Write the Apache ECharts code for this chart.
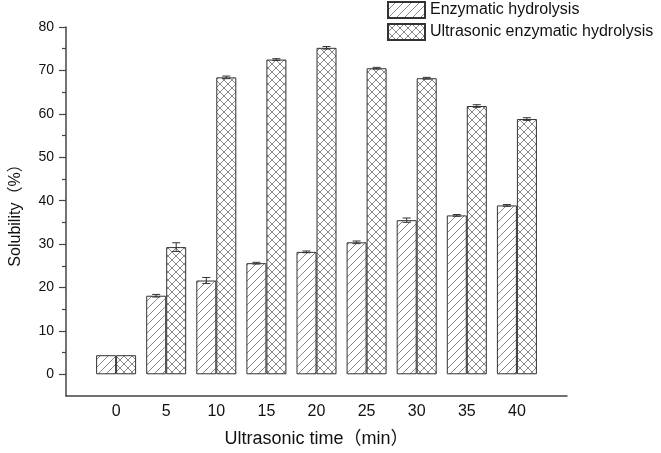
<!DOCTYPE html>
<html>
<head>
<meta charset="utf-8">
<script src="https://cdn.jsdelivr.net/npm/echarts@6/dist/echarts.min.js"></script>
<style>html,body{margin:0;padding:0;background:#fff;}#c{width:661px;height:453px;}</style>
</head>
<body>
<div id="c"></div>
<script>
const times = [0, 5, 10, 15, 20, 25, 30, 35, 40];
const enzymatic = [4.4, 18.1, 21.6, 25.6, 28.2, 30.4, 35.5, 36.6, 38.9];
const enzymaticErr = [0, 0.3, 0.7, 0.2, 0.2, 0.3, 0.5, 0.2, 0.2];
const ultrasonic = [4.4, 29.3, 68.4, 72.5, 75.2, 70.5, 68.2, 61.8, 58.8];
const ultrasonicErr = [0, 1.0, 0.3, 0.2, 0.3, 0.2, 0.2, 0.3, 0.3];
const yLabels = [0, 10, 20, 30, 40, 50, 60, 70, 80];
const yMinor = [5, 15, 25, 35, 45, 55, 65, 75];
const seriesNames = ['Enzymatic hydrolysis', 'Ultrasonic enzymatic hydrolysis'];

function makePattern(cross) {
  const s = 8;
  const c = document.createElement('canvas');
  c.width = s; c.height = s;
  const g = c.getContext('2d');
  g.fillStyle = '#fff'; g.fillRect(0, 0, s, s);
  g.strokeStyle = '#888'; g.lineWidth = 1;
  g.beginPath();
  g.moveTo(-1, s + 1); g.lineTo(s + 1, -1);
  g.moveTo(-1, 1); g.lineTo(1, -1);
  g.moveTo(s - 1, s + 1); g.lineTo(s + 1, s - 1);
  if (cross) {
    g.moveTo(-1, -1); g.lineTo(s + 1, s + 1);
    g.moveTo(s - 1, -1); g.lineTo(s + 1, 1);
    g.moveTo(-1, s - 1); g.lineTo(1, s + 1);
  }
  g.stroke();
  return c;
}

const font = 'Liberation Sans, Arial, Noto Sans CJK SC, sans-serif';
const errData = (vals, errs) => times.map((t, i) => [t, vals[i], errs[i]]);

function errRender(offset) {
  return function (params, api) {
    const x = api.value(0), y = api.value(1), e = api.value(2);
    if (!e) return;
    const top = api.coord([x, y + e]);
    const bot = api.coord([x, y - e]);
    const cx = top[0] + offset;
    const w = 4;
    const st = { stroke: '#333', lineWidth: 1 };
    return {
      type: 'group',
      children: [
        { type: 'line', shape: { x1: cx, y1: top[1], x2: cx, y2: bot[1] }, style: st },
        { type: 'line', shape: { x1: cx - w, y1: top[1], x2: cx + w, y2: top[1] }, style: st },
        { type: 'line', shape: { x1: cx - w, y1: bot[1], x2: cx + w, y2: bot[1] }, style: st }
      ]
    };
  };
}

const chart = echarts.init(document.getElementById('c'), null, { renderer: 'canvas' });
chart.setOption({
  animation: false,
  backgroundColor: '#fff',
  textStyle: { fontFamily: font },
  grid: { left: 65, right: 94, top: 27, bottom: 56, containLabel: false },
  legend: {
    orient: 'vertical',
    left: 387, top: 1, padding: 0,
    itemWidth: 37, itemHeight: 16, itemGap: 4,
    icon: 'rect',
    textStyle: { fontSize: 16, color: '#111', fontFamily: font },
    data: seriesNames
  },
  xAxis: {
    type: 'value', min: -5, max: 45,
    name: 'Ultrasonic time（min）',
    nameLocation: 'middle', nameGap: 34,
    nameTextStyle: { fontSize: 18, color: '#111', fontFamily: font },
    axisLine: { onZero: false, lineStyle: { color: '#444', width: 1.5 } },
    axisTick: { show: false },
    splitLine: { show: false },
    axisLabel: { customValues: times, fontSize: 16, color: '#111', margin: 8, fontFamily: font }
  },
  yAxis: [{
    type: 'value', min: -5, max: 80, position: 'left',
    name: 'Solubility（%）',
    nameLocation: 'middle', nameGap: 42,
    nameTextStyle: { fontSize: 16, color: '#111', fontFamily: font },
    axisLine: { show: true, onZero: false, lineStyle: { color: '#444', width: 1.5 } },
    axisTick: { show: true, customValues: yLabels, length: 7, lineStyle: { color: '#444', width: 1.2 } },
    axisLabel: { customValues: yLabels, fontSize: 14, color: '#111', margin: 12, fontFamily: font },
    splitLine: { show: false }
  }, {
    type: 'value', min: -5, max: 80, position: 'left', offset: 0,
    axisLine: { show: false, onZero: false },
    axisTick: { show: true, customValues: yMinor, length: 4, lineStyle: { color: '#444', width: 1.2 } },
    axisLabel: { show: false },
    splitLine: { show: false }
  }],
  series: [{
    name: seriesNames[0], type: 'bar', barWidth: 20, barGap: '0%',
    data: times.map((t, i) => [t, enzymatic[i]]),
    itemStyle: { color: { image: makePattern(false), repeat: 'repeat' }, borderColor: '#333', borderWidth: 1 }
  }, {
    name: seriesNames[1], type: 'bar', barWidth: 20, barGap: '0%',
    data: times.map((t, i) => [t, ultrasonic[i]]),
    itemStyle: { color: { image: makePattern(true), repeat: 'repeat' }, borderColor: '#333', borderWidth: 1 }
  }, {
    type: 'custom', renderItem: errRender(-10), z: 5,
    data: errData(enzymatic, enzymaticErr), encode: { x: 0, y: 1 }, silent: true
  }, {
    type: 'custom', renderItem: errRender(10), z: 5,
    data: errData(ultrasonic, ultrasonicErr), encode: { x: 0, y: 1 }, silent: true
  }]
});
</script>
</body>
</html>
